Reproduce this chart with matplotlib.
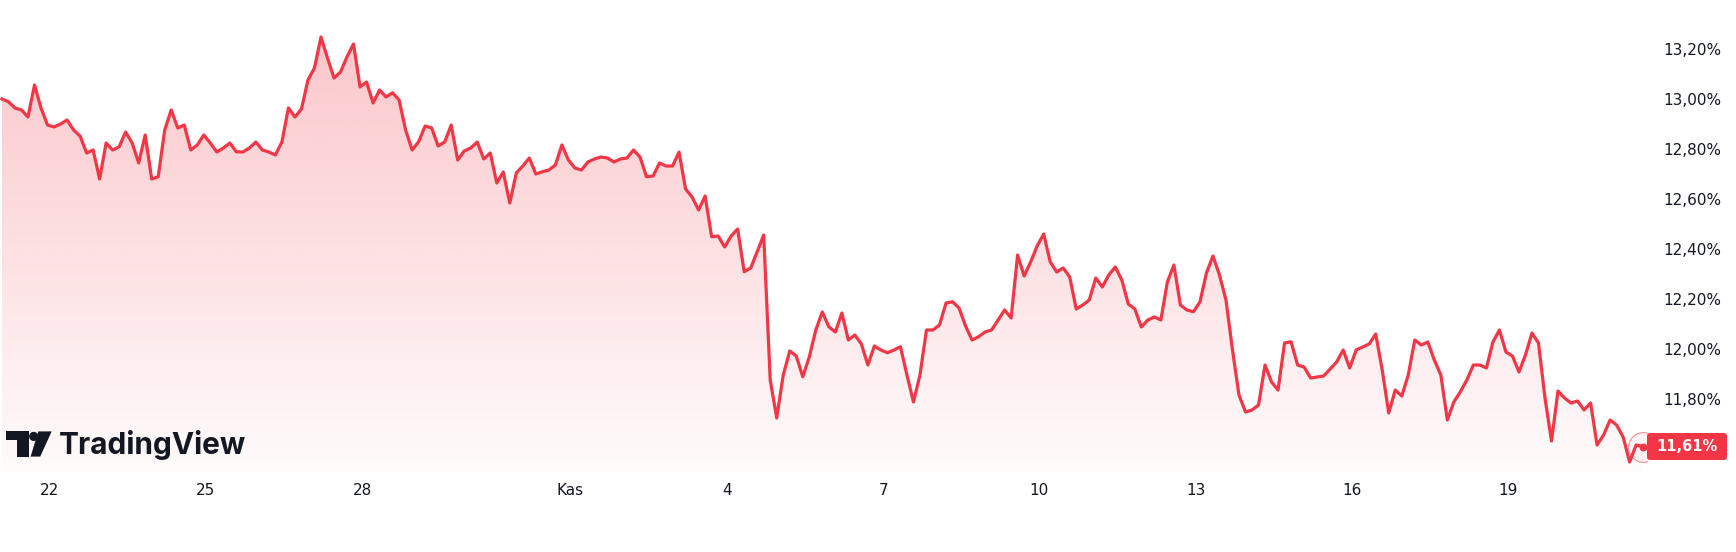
import numpy as np
import pandas as pd
import matplotlib
matplotlib.use('Agg')
import matplotlib.pyplot as plt
import matplotlib.dates as mdates
from matplotlib.patches import FancyBboxPatch, Polygon, Circle, Rectangle
from matplotlib.transforms import IdentityTransform

# 3 saatlik kapanislar (faiz, %), 21 Eki 02:00 -> 21 Kas 14:00
start = '2024-10-21 02:00'
values = [
    13.000, 12.989, 12.964, 12.956, 12.928, 13.056, 12.964, 12.896, 12.888, 12.900,
    12.916, 12.876, 12.852, 12.784, 12.796, 12.680, 12.824, 12.796, 12.809, 12.868,
    12.824, 12.744, 12.856, 12.680, 12.689, 12.876, 12.956, 12.884, 12.896, 12.796,
    12.816, 12.856, 12.824, 12.788, 12.804, 12.824, 12.789, 12.788, 12.804, 12.828,
    12.796, 12.788, 12.776, 12.828, 12.964, 12.928, 12.960, 13.076, 13.124, 13.248,
    13.164, 13.084, 13.108, 13.169, 13.220, 13.048, 13.068, 12.984, 13.036, 13.008,
    13.025, 12.996, 12.876, 12.796, 12.829, 12.892, 12.884, 12.812, 12.828, 12.896,
    12.756, 12.792, 12.804, 12.828, 12.760, 12.784, 12.664, 12.708, 12.584, 12.704,
    12.732, 12.764, 12.700, 12.709, 12.716, 12.736, 12.816, 12.756, 12.724, 12.716,
    12.748, 12.760, 12.768, 12.764, 12.748, 12.760, 12.764, 12.796, 12.768, 12.689,
    12.692, 12.744, 12.732, 12.732, 12.788, 12.640, 12.608, 12.556, 12.612, 12.449,
    12.452, 12.408, 12.452, 12.480, 12.309, 12.324, 12.389, 12.456, 11.876, 11.724,
    11.896, 11.992, 11.972, 11.889, 11.968, 12.076, 12.148, 12.089, 12.068, 12.144,
    12.036, 12.056, 12.020, 11.936, 12.012, 11.996, 11.985, 11.996, 12.009, 11.896,
    11.788, 11.896, 12.076, 12.076, 12.096, 12.184, 12.189, 12.164, 12.092, 12.036,
    12.049, 12.068, 12.076, 12.116, 12.156, 12.124, 12.376, 12.292, 12.348, 12.412,
    12.460, 12.349, 12.308, 12.324, 12.288, 12.160, 12.176, 12.196, 12.284, 12.248,
    12.296, 12.328, 12.276, 12.180, 12.160, 12.088, 12.116, 12.128, 12.116, 12.268,
    12.336, 12.176, 12.156, 12.149, 12.188, 12.304, 12.372, 12.296, 12.196, 11.996,
    11.816, 11.748, 11.756, 11.776, 11.936, 11.868, 11.836, 12.024, 12.029, 11.936,
    11.928, 11.884, 11.888, 11.892, 11.920, 11.948, 11.996, 11.924, 11.996, 12.008,
    12.020, 12.060, 11.916, 11.744, 11.836, 11.812, 11.896, 12.036, 12.016, 12.028,
    11.956, 11.896, 11.716, 11.788, 11.829, 11.876, 11.936, 11.936, 11.924, 12.028,
    12.076, 11.988, 11.972, 11.908, 11.976, 12.064, 12.024, 11.804, 11.632, 11.832,
    11.804, 11.784, 11.792, 11.756, 11.784, 11.616, 11.656, 11.716, 11.696, 11.648,
    11.548, 11.616, 11.610,
]
tick_dates = ['2024-10-22', '2024-10-25', '2024-10-28', '2024-11-01', '2024-11-04',
              '2024-11-07', '2024-11-10', '2024-11-13', '2024-11-16', '2024-11-19']
tick_labels = ['22', '25', '28', 'Kas', '4', '7', '10', '13', '16', '19']
price_ticks = [11.8, 12.0, 12.2, 12.4, 12.6, 12.8, 13.0, 13.2]

red = '#F23645'
text_col = '#131722'

times = pd.date_range(start, periods=len(values), freq='3h')
x = mdates.date2num(times)
y = np.array(values)

fig = plt.figure(figsize=(17.36, 5.52), dpi=100)
ax = fig.add_axes([0, 80 / 552, 1647 / 1736, 472 / 552])

x_lo = mdates.date2num(times[0] - pd.Timedelta('54min'))
x_hi = mdates.date2num(times[-1] + pd.Timedelta('2h'))
y_lo, y_hi = 11.508, 13.396

# verlaufende Flaeche unter der Linie
area = ax.fill_between(x, y, y_lo, facecolor='none', edgecolor='none')
grad = np.zeros((256, 1, 4))
grad[..., :3] = matplotlib.colors.to_rgb(red)
grad[:, 0, 3] = np.linspace(0.28, 0.02, 256)
im = ax.imshow(grad, aspect='auto', extent=[x_lo, x_hi, y_lo, y.max()],
               origin='upper', zorder=1, interpolation='bilinear')
im.set_clip_path(area.get_paths()[0], transform=ax.transData)

ax.plot(x, y, color=red, lw=2.3, zorder=3, solid_joinstyle='round')

# letzter Punkt
ax.scatter([x[-1]], [y[-1]], s=22, color=red, zorder=4)
ax.scatter([x[-1]], [y[-1]], s=460, facecolor=(0.95, 0.21, 0.27, 0.05),
           edgecolor=(0.95, 0.21, 0.27, 0.55), lw=0.8, zorder=4)

ax.set_xlim(x_lo, x_hi)
ax.set_ylim(y_lo, y_hi)

ax.set_xticks(mdates.date2num(pd.to_datetime(tick_dates)))
ax.set_xticklabels(tick_labels)
ax.yaxis.tick_right()
ax.set_yticks(price_ticks)
ax.set_yticklabels([f'{v:.2f}%'.replace('.', ',') for v in price_ticks])
ax.tick_params(axis='both', length=0, labelsize=11, colors=text_col)
ax.tick_params(axis='y', pad=11.5)
ax.tick_params(axis='x', pad=8)
for s in ax.spines.values():
    s.set_visible(False)

# Preisschild rechts
px, py = ax.transData.transform((x_hi, y[-1]))
fig.patches.append(FancyBboxPatch((px, py - 13.5), 80, 27,
                                  boxstyle='round,pad=0,rounding_size=3',
                                  fc=red, ec='none', transform=IdentityTransform()))
fig.text(px + 40, py, f'{y[-1]:.2f}%'.replace('.', ','), transform=IdentityTransform(),
         color='white', fontsize=10.5, fontweight='bold', va='center', ha='center')

# TradingView Logo
H = 552
logo = '#131722'
fig.patches.append(Rectangle((5.7, H - 440.2), 23, 8.8, fc=logo, ec='none', transform=IdentityTransform()))
fig.patches.append(Rectangle((17.2, H - 456.6), 11.5, 25.2, fc=logo, ec='none', transform=IdentityTransform()))
fig.patches.append(Circle((33.7, H - 436.4), 4.6, fc=logo, ec='none', transform=IdentityTransform()))
fig.patches.append(Polygon([(38.3, H - 431.4), (51.7, H - 431.4), (40.2, H - 456.6), (30.6, H - 456.6)],
                           fc=logo, ec='none', transform=IdentityTransform()))
fig.text(59, H - 445, 'TradingView', transform=IdentityTransform(), color=logo,
         fontsize=21.5, fontweight='bold', family='Inter', va='center', ha='left')

fig.savefig('out.png', dpi=100)
